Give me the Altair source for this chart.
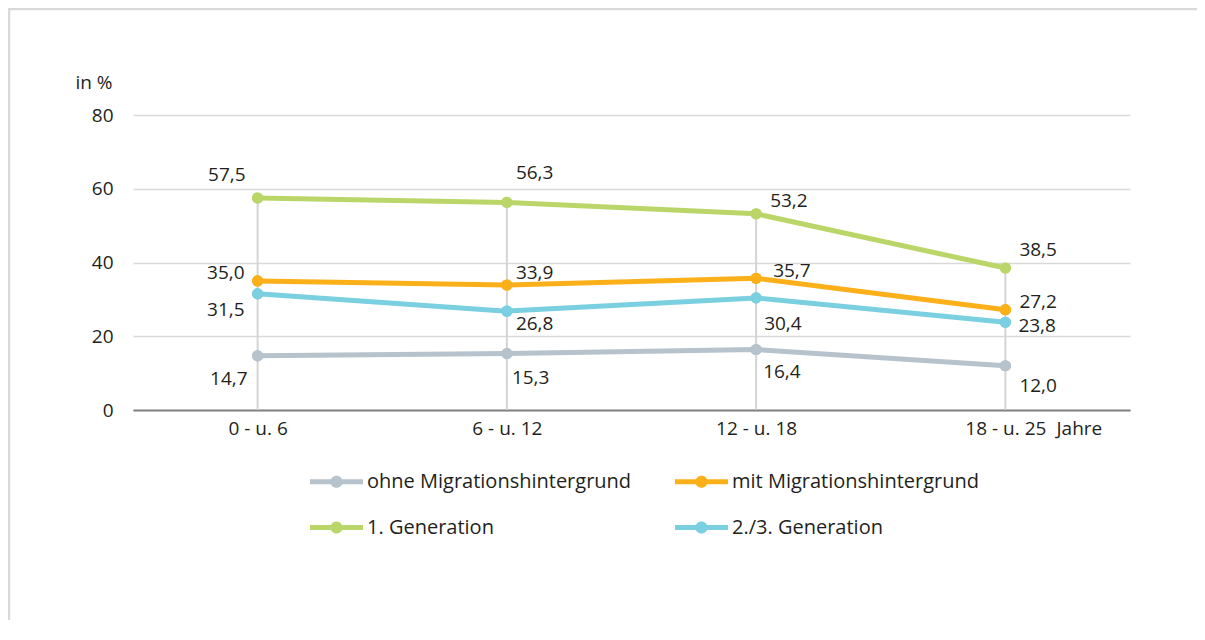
import altair as alt
import pandas as pd

categories = ["0 - u. 6", "6 - u. 12", "12 - u. 18", "18 - u. 25"]
series_names = ["ohne Migrationshintergrund", "mit Migrationshintergrund",
                "1. Generation", "2./3. Generation"]
ohne = [14.7, 15.3, 16.4, 12.0]
mit = [35.0, 33.9, 35.7, 27.2]
gen1 = [57.5, 56.3, 53.2, 38.5]
gen23 = [31.5, 26.8, 30.4, 23.8]
y_ticks = [0, 20, 40, 60, 80]
colors = ["#b6c2cc", "#fbb01a", "#bad668", "#7acfe0"]

series_values = [ohne, mit, gen1, gen23]
rows = []
for s, vals in zip(series_names, series_values):
    for c, v in zip(categories, vals):
        rows.append({"series": s, "cat": c, "value": v,
                     "label": f"{v:.1f}".replace(".", ",")})
df = pd.DataFrame(rows)

# label placement (align, dx, dy) per series / category index
placement = {
    "1. Generation": [("right", -12, -23), ("left", 9, -29), ("left", 14, -13), ("left", 14, -18)],
    "mit Migrationshintergrund": [("right", -13, -8), ("left", 9, -12), ("left", 17, -7), ("left", 14, -8)],
    "2./3. Generation": [("right", -13, 16), ("left", 9, 13), ("left", 8, 26), ("left", 13, 4)],
    "ohne Migrationshintergrund": [("right", -10, 23), ("left", 5, 24), ("left", 7, 22), ("left", 14, 20)],
}

FONT = "Open Sans"
TXT = "#231f20"

x_enc = alt.X("cat:N", sort=categories, scale=alt.Scale(type="point", padding=0.5),
              axis=alt.Axis(title="Jahre", labelAngle=0, labelFontSize=19, labelFont=FONT,
                            labelColor=TXT, labelPadding=9, ticks=False, grid=False,
                            domain=True, domainColor="#808080", domainWidth=2,
                            titleX=923, titleY=24, titleAlign="left",
                            titleBaseline="alphabetic", titleFontWeight="normal",
                            titleFontSize=19, titleFont=FONT, titleColor=TXT))
y_axis = alt.Axis(title="in %", values=y_ticks, labelFontSize=19, labelFont=FONT,
                  labelColor=TXT, labelPadding=20, ticks=False, domain=False,
                  grid=True, gridColor="#d9d9d9", gridWidth=1.5,
                  titleAngle=0, titleX=-21, titleY=-27, titleAlign="right",
                  titleBaseline="alphabetic", titleFontWeight="normal",
                  titleFontSize=19, titleFont=FONT, titleColor=TXT)
y_scale = alt.Scale(domain=[0, 80], nice=False)

legend_path = ("M-1,-0.09 L1,-0.09 L1,0.09 L-1,0.09 Z "
               "M-0.23,0 A0.23,0.23 0 1,1 0.23,0 A0.23,0.23 0 1,1 -0.23,0 Z")
color_enc = alt.Color("series:N", scale=alt.Scale(domain=series_names, range=colors),
                      legend=alt.Legend(title=None, orient="none", legendX=177, legendY=340,
                                        direction="horizontal",
                                        columns=2, columnPadding=43, rowPadding=9,
                                        symbolType=legend_path, symbolSize=2809,
                                        symbolStrokeWidth=0, symbolOpacity=1,
                                        labelFont=FONT, labelFontSize=20, labelColor=TXT,
                                        labelOffset=4, labelLimit=0, padding=0))

drops = alt.Chart(df).transform_aggregate(
    maxv="max(value)", groupby=["cat"]
).mark_rule(color="#d4d4d4", strokeWidth=2).encode(
    x=x_enc, y=alt.Y("maxv:Q", scale=y_scale, axis=y_axis), y2=alt.datum(0))

points_legend = alt.Chart(df).mark_point(filled=True, size=125, opacity=1).encode(
    x=x_enc, y=alt.Y("value:Q", scale=y_scale, axis=y_axis), color=color_enc)
lines = alt.Chart(df).mark_line(strokeWidth=5).encode(
    x=x_enc, y=alt.Y("value:Q", scale=y_scale, axis=y_axis), color=color_enc,
    detail="series:N")
points = alt.Chart(df).mark_point(filled=True, size=125, opacity=1).encode(
    x=x_enc, y=alt.Y("value:Q", scale=y_scale, axis=y_axis), color=color_enc)

label_layers = []
for s in series_names:
    for i, c in enumerate(categories):
        align, dx, dy = placement[s][i]
        label_layers.append(
            alt.Chart(df).transform_filter(
                (alt.datum.series == s) & (alt.datum.cat == c)
            ).mark_text(align=align, baseline="middle", dx=dx, dy=dy, font=FONT,
                        fontSize=19, color=TXT).encode(
                x=x_enc, y=alt.Y("value:Q", scale=y_scale, axis=y_axis), text="label:N")
        )

border_df = pd.DataFrame({"k": [0]})
border_top = alt.Chart(border_df).mark_rule(color="#d9d9d9", strokeWidth=2.5).encode(
    x=alt.value(-125), x2=alt.value(1064), y=alt.value(-106))
border_left = alt.Chart(border_df).mark_rule(color="#d9d9d9", strokeWidth=2.5).encode(
    x=alt.value(-124), y=alt.value(-107), y2=alt.value(520))

chart = alt.layer(drops, points_legend, lines, points, *label_layers,
                  border_top, border_left).properties(
    width=997, height=295,
    background="white",
    autosize=alt.AutoSizeParams(type="none"),
    padding={"left": 125, "top": 107, "right": 67, "bottom": 210},
).configure_view(stroke=None)

chart.save("out.html", embed_options={"renderer": "svg", "actions": False})
